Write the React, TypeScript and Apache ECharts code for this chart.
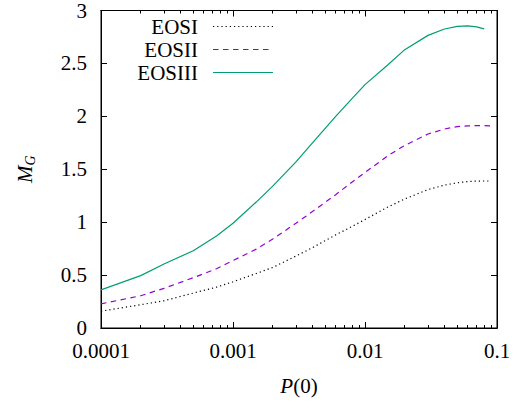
import React, { useEffect, useRef } from "react";
import * as echarts from "echarts";

const P0 = [0.0001, 0.0002, 0.0003, 0.0005, 0.00075, 0.001, 0.0015, 0.002, 0.003, 0.004, 0.006, 0.008, 0.01, 0.015, 0.02, 0.03, 0.04, 0.05, 0.06, 0.07, 0.08, 0.09];
const EOSI = [0.159, 0.22, 0.257, 0.33, 0.386, 0.437, 0.515, 0.572, 0.68, 0.759, 0.88, 0.96, 1.025, 1.145, 1.219, 1.308, 1.35, 1.372, 1.384, 1.388, 1.389, 1.389];
const EOSII = [0.228, 0.305, 0.375, 0.475, 0.56, 0.637, 0.745, 0.84, 0.99, 1.1, 1.26, 1.38, 1.47, 1.63, 1.725, 1.833, 1.88, 1.903, 1.91, 1.912, 1.912, 1.91];
const EOSIII = [0.36, 0.495, 0.605, 0.73, 0.87, 0.99, 1.19, 1.34, 1.57, 1.75, 2.0, 2.17, 2.3, 2.49, 2.63, 2.765, 2.825, 2.85, 2.855, 2.845, 2.826];

const SERIES_NAMES = ["EOSI", "EOSII", "EOSIII"];
const X_MAJOR = [0.0001, 0.001, 0.01, 0.1];
const X_LABELS = ["0.0001", "0.001", "0.01", "0.1"];
const X_MINOR = [
  0.0002, 0.0003, 0.0004, 0.0005, 0.0006, 0.0007, 0.0008, 0.0009,
  0.002, 0.003, 0.004, 0.005, 0.006, 0.007, 0.008, 0.009,
  0.02, 0.03, 0.04, 0.05, 0.06, 0.07, 0.08, 0.09,
];

const FONT = "'Liberation Serif', 'Times New Roman', serif";
const FS = 21;
const COLORS = ["#000000", "#9400d3", "#009e73"];
const DASHES: any[] = [[1.2, 3], [5.5, 4.5], "solid"];

export default function App() {
  const ref = useRef<HTMLDivElement>(null);
  useEffect(() => {
    if (!ref.current) return;
    const chart = echarts.init(ref.current, undefined, { renderer: "svg" });
    const pairs = (ys: number[]) => ys.map((y, i) => [P0[i], y]);
    const allData = [EOSI, EOSII, EOSIII];

    const xBase = (position: string, values: number[], len: number, labels: boolean) => ({
      type: "log",
      logBase: 10,
      min: 0.0001,
      max: 0.1,
      position,
      axisLine: { show: true, onZero: false, lineStyle: { color: "#000", width: 1 } },
      axisTick: { show: true, inside: true, length: len, customValues: values, lineStyle: { color: "#000", width: 1 } },
      axisLabel: labels
        ? {
            show: true,
            customValues: X_MAJOR,
            margin: 13,
            lineHeight: 20,
            color: "#000",
            fontFamily: FONT,
            fontSize: FS,
            formatter: (v: number) => {
              const k = X_MAJOR.findIndex((m) => Math.abs(Math.log10(m) - Math.log10(v)) < 1e-6);
              return k >= 0 ? X_LABELS[k] : "";
            },
          }
        : { show: false },
      splitLine: { show: false },
      minorTick: { show: false },
    });

    const yBase = (position: string, labels: boolean) => ({
      type: "value",
      min: 0,
      max: 3,
      interval: 0.5,
      position,
      axisLine: { show: true, onZero: false, lineStyle: { color: "#000", width: 1 } },
      axisTick: { show: true, inside: true, length: 6, lineStyle: { color: "#000", width: 1 } },
      axisLabel: labels
        ? { show: true, margin: 14, lineHeight: 18, color: "#000", fontFamily: FONT, fontSize: FS }
        : { show: false },
      splitLine: { show: false },
    });

    const legendGraphics: any[] = [];
    const rowsY = [26.5, 49.5, 72.5];
    SERIES_NAMES.forEach((n, i) => {
      legendGraphics.push({
        type: "text",
        x: 198,
        y: rowsY[i],
        style: { text: n, fill: "#000", font: `${FS}px ${FONT}`, textAlign: "right", textVerticalAlign: "middle" },
      });
      legendGraphics.push({
        type: "line",
        shape: { x1: 213, y1: rowsY[i], x2: 273, y2: rowsY[i] },
        style: { stroke: COLORS[i], lineWidth: 1.2, lineDash: DASHES[i] === "solid" ? null : DASHES[i] },
      });
    });

    chart.setOption({
      animation: false,
      backgroundColor: "#fff",
      textStyle: { fontFamily: FONT, color: "#000" },
      grid: { left: 101, right: 22, top: 10, bottom: 73, show: true, borderColor: "#000", borderWidth: 1, backgroundColor: "transparent" },
      xAxis: [
        {
          ...xBase("bottom", X_MAJOR, 6, true),
          name: "{i|P}{r|(0)}",
          nameLocation: "middle",
          nameGap: 47,
          nameTextStyle: {
            fontFamily: FONT,
            fontSize: FS,
            color: "#000",
            rich: {
              i: { fontStyle: "italic", fontFamily: FONT, fontSize: FS, color: "#000" },
              r: { fontFamily: FONT, fontSize: FS, color: "#000" },
            },
          },
        },
        xBase("bottom", X_MINOR, 3, false),
        xBase("top", X_MAJOR, 6, false),
        xBase("top", X_MINOR, 3, false),
      ],
      yAxis: [
        {
          ...yBase("left", true),
          name: "{m|M}{s|G}",
          nameLocation: "middle",
          nameGap: 64,
          nameRotate: 90,
          nameTextStyle: {
            fontFamily: FONT,
            rich: {
              m: { fontStyle: "italic", fontFamily: FONT, fontSize: FS, lineHeight: 24, verticalAlign: "middle", color: "#000" },
              s: { fontStyle: "italic", fontFamily: FONT, fontSize: 14, lineHeight: 14, verticalAlign: "bottom", color: "#000" },
            },
          },
        },
        yBase("right", false),
      ],
      series: allData.map((ys, i) => ({
        name: SERIES_NAMES[i],
        type: "line",
        xAxisIndex: 0,
        yAxisIndex: 0,
        data: pairs(ys),
        showSymbol: false,
        symbol: "none",
        smooth: false,
        clip: true,
        lineStyle: { color: COLORS[i], width: 1.2, type: DASHES[i] },
        z: 3 + i,
      })),
      graphic: legendGraphics,
    });
    return () => chart.dispose();
  }, []);
  return <div ref={ref} style={{ position: "fixed", left: 0, top: 0, width: 519, height: 401 }} />;
}
